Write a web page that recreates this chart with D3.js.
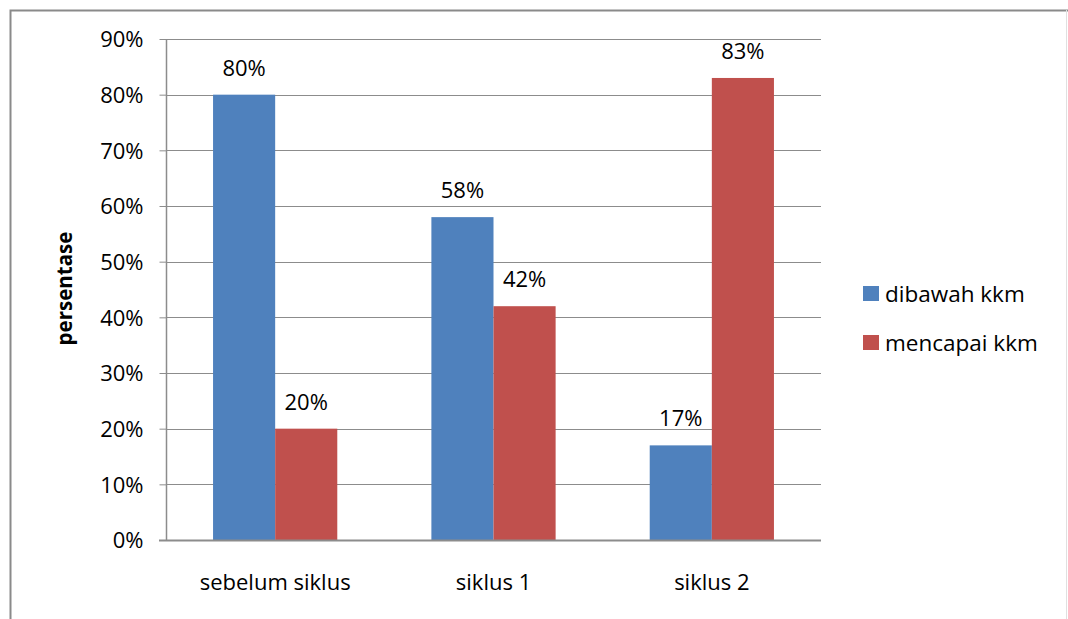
<!DOCTYPE html>
<html><head><meta charset="utf-8">
<script src="https://cdn.jsdelivr.net/npm/d3@7"></script>
<style>body{margin:0;background:#fff}svg{display:block;font-family:"Open Sans","Liberation Sans",sans-serif}</style>
</head><body>
<svg id="c" width="1068" height="619"></svg>
<script>
const categories = ["sebelum siklus", "siklus 1", "siklus 2"];
const seriesNames = ["dibawah kkm", "mencapai kkm"];
const dibawah = [0.80, 0.58, 0.17];
const mencapai = [0.20, 0.42, 0.83];
const yTicks = [0, 0.1, 0.2, 0.3, 0.4, 0.5, 0.6, 0.7, 0.8, 0.9];
const colors = ["#4F81BD", "#C0504D"];
const values = [dibawah, mencapai];
const FONT = "'Open Sans','Liberation Sans',sans-serif";

const svg = d3.select("#c");
// outer border
svg.append("path").attr("d","M10.5,619 L10.5,10.5 L1068,10.5").attr("fill","none").attr("stroke","#8a8a8a").attr("stroke-width",2);
svg.append("line").attr("x1",1066.5).attr("x2",1066.5).attr("y1",10).attr("y2",619).attr("stroke","#e0e0e0");

const L=166, R=821, T=39, B=540;
const y = d3.scaleLinear().domain([0,0.9]).range([B,T]);
const x0 = d3.scaleBand().domain(categories).range([L,R]).padding(0);
const bw = x0.bandwidth();
const x1 = d3.scaleBand().domain(seriesNames).range([bw*0.2155, bw*0.7845]).padding(0);

// gridlines
svg.append("g").selectAll("line").data(yTicks.slice(1)).join("line")
  .attr("x1",L).attr("x2",R).attr("y1",d=>Math.round(y(d))+0.5).attr("y2",d=>Math.round(y(d))+0.5)
  .attr("stroke","#8c8c8c").attr("stroke-width",1);

// bars
categories.forEach((c,i)=>{
  seriesNames.forEach((s,j)=>{
    const v = values[j][i];
    svg.append("rect").attr("x",x0(c)+x1(s)).attr("width",x1.bandwidth())
      .attr("y",y(v)).attr("height",B-y(v)).attr("fill",colors[j]);
    svg.append("text").attr("x",x0(c)+x1(s)+x1.bandwidth()/2).attr("y",y(v)-19)
      .attr("text-anchor","middle").attr("font-size",22).attr("fill","#000")
      .text(Math.round(v*100)+"%");
  });
});

// y axis
const yAxis = d3.axisLeft(y).tickValues(yTicks).tickFormat(d=>Math.round(d*100)+"%").tickSize(7).tickPadding(16);
const gy = svg.append("g").attr("transform",`translate(${L+0.5},0)`).call(yAxis);
gy.select(".domain").attr("stroke","#8c8c8c").attr("stroke-width",1.5).attr("d",`M0,${T}V${B}`);
gy.selectAll(".tick line").attr("stroke","#8c8c8c");
gy.selectAll(".tick text").attr("font-size",22).attr("fill","#000").attr("font-family",FONT).attr("dy","0.36em");

// x axis
const gx = svg.append("g").attr("transform",`translate(0,${B+0.5})`).call(d3.axisBottom(x0).tickSize(0));
gx.select(".domain").attr("stroke","#8c8c8c").attr("stroke-width",2).attr("d",`M${L-7},0H${R}`);
gx.selectAll(".tick text").attr("font-size",22).attr("fill","#000").attr("font-family",FONT).attr("y",49.5).attr("dy",0);

// y title
svg.append("text").attr("transform",`translate(72,${(T+B)/2-1}) rotate(-90)`).attr("text-anchor","middle")
  .attr("font-size",20.5).attr("font-weight","bold").text("persentase");

// legend
seriesNames.forEach((s,j)=>{
  const ly = 286 + j*49;
  svg.append("rect").attr("x",863).attr("y",ly).attr("width",16).attr("height",15).attr("fill",colors[j]);
  svg.append("text").attr("x",885).attr("y",ly+16).attr("font-size",22.5).text(s);
});
</script>
</body></html>
